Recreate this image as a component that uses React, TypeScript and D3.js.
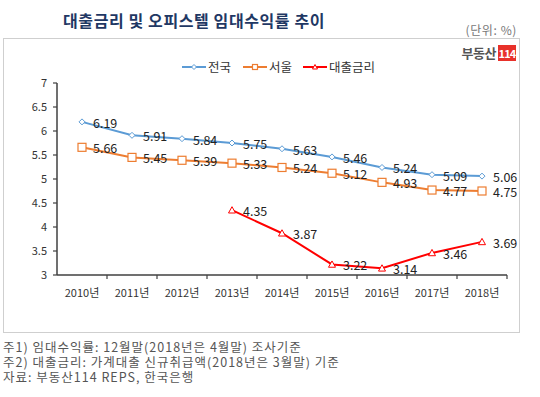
import React from "react";
import * as d3 from "d3";

const years = ["2010년", "2011년", "2012년", "2013년", "2014년", "2015년", "2016년", "2017년", "2018년"];
const national = [6.19, 5.91, 5.84, 5.75, 5.63, 5.46, 5.24, 5.09, 5.06];
const seoul = [5.66, 5.45, 5.39, 5.33, 5.24, 5.12, 4.93, 4.77, 4.75];
const loanRate: (number | null)[] = [null, null, null, 4.35, 3.87, 3.22, 3.14, 3.46, 3.69];
const yTicks = [3, 3.5, 4, 4.5, 5, 5.5, 6, 6.5, 7];
const seriesNames = ["전국", "서울", "대출금리"];
const notes = [
  "주1) 임대수익률: 12월말(2018년은 4월말) 조사기준",
  "주2) 대출금리: 가계대출 신규취급액(2018년은 3월말) 기준",
  "자료: 부동산114 REPS, 한국은행",
];

const FONT = "'Noto Sans CJK KR', 'Noto Sans', sans-serif";
const colors = ["#5b9bd5", "#ed7d31", "#ff0000"];

function Marker({ kind, x, y, color, s }: { kind: number; x: number; y: number; color: string; s: number }) {
  if (kind === 0) {
    return <path d={`M${x},${y - s}L${x + s},${y}L${x},${y + s}L${x - s},${y}Z`} fill="#fff" stroke={color} strokeWidth={1} />;
  }
  if (kind === 1) {
    return <rect x={x - s} y={y - s} width={2 * s} height={2 * s} fill="#fff" stroke={color} strokeWidth={1.2} />;
  }
  return <path d={`M${x},${y - s}L${x + s},${y + s * 0.8}L${x - s},${y + s * 0.8}Z`} fill="#fff" stroke={color} strokeWidth={1} />;
}

export default function App() {
  const x = d3.scaleBand<string>().domain(years).range([57, 507]);
  const y = d3.scaleLinear().domain([3, 7]).range([275, 83]);
  const cx = (d: string) => (x(d) as number) + x.bandwidth() / 2;

  const all: (number | null)[][] = [national, seoul, loanRate];
  const line = d3
    .line<number | null>()
    .defined((d) => d !== null)
    .x((_, i) => cx(years[i]))
    .y((d) => y(d as number));

  const legendX = [182, 243, 303];
  const markerSizes = [3, 4, 3.5];

  return (
    <svg width={540} height={397} style={{ position: "absolute", left: 0, top: 0, background: "#fff" }} fontFamily={FONT}>
      <text x={63} y={27} fontSize={16} fontWeight="bold" fill="#1f3864" letterSpacing={0.6}>
        대출금리 및 오피스텔 임대수익률 추이
      </text>
      <text x={517} y={35} fontSize={12} fill="#777" textAnchor="end" letterSpacing={0.6}>
        (단위: %)
      </text>
      <rect x={3.5} y={38.5} width={516} height={294} fill="#fff" stroke="#cfcfcf" strokeWidth={1} />

      {/* logo */}
      <text x={496} y={58} fontSize={13} fontWeight="bold" fill="#555" textAnchor="end" letterSpacing={-0.5}>
        부동산
      </text>
      <rect x={498} y={45} width={18} height={16} fill="#e8312a" />
      <text x={507} y={57.5} fontSize={11} fontWeight="bold" fill="#fff" textAnchor="middle" letterSpacing={-0.8}>
        114
      </text>

      {/* legend */}
      {seriesNames.map((n, i) => (
        <g key={n}>
          <line x1={legendX[i]} x2={legendX[i] + 24} y1={67} y2={67} stroke={colors[i]} strokeWidth={2} />
          <Marker kind={i} x={legendX[i] + 12} y={67} color={colors[i]} s={2.5} />
          <text x={legendX[i] + 26} y={71.5} fontSize={12.5} fill="#333">
            {n}
          </text>
        </g>
      ))}

      {/* y axis */}
      <line x1={57} x2={57} y1={y(7)} y2={y(3)} stroke="#404040" strokeWidth={1.5} />
      {yTicks.map((t) => (
        <g key={t}>
          <line x1={53} x2={57} y1={y(t)} y2={y(t)} stroke="#404040" strokeWidth={1.2} />
          <text x={47} y={y(t) + 4} fontSize={11} fill="#333" textAnchor="end">
            {t}
          </text>
        </g>
      ))}

      {/* x axis */}
      <line x1={57} x2={507} y1={275} y2={275} stroke="#404040" strokeWidth={1.5} />
      {years.map((yr) => (
        <g key={yr}>
          <line x1={(x(yr) as number) + x.bandwidth()} x2={(x(yr) as number) + x.bandwidth()} y1={275} y2={279} stroke="#404040" strokeWidth={1.2} />
          <text x={cx(yr)} y={297} fontSize={11} fill="#333" textAnchor="middle">
            {yr}
          </text>
        </g>
      ))}

      {/* series */}
      {all.map((vals, si) => (
        <g key={si}>
          <path d={line(vals) || ""} fill="none" stroke={colors[si]} strokeWidth={2} />
          {vals.map((v, i) =>
            v === null ? null : (
              <g key={i}>
                <Marker kind={si} x={cx(years[i])} y={y(v)} color={colors[si]} s={markerSizes[si]} />
                <text x={cx(years[i]) + 11} y={y(v) + 6} fontSize={12.5} fill="#222">
                  {v.toFixed(2)}
                </text>
              </g>
            )
          )}
        </g>
      ))}

      {/* notes */}
      {notes.map((n, i) => (
        <text key={i} x={3} y={352 + i * 15} fontSize={12.5} fill="#555" letterSpacing={1}>
          {n}
        </text>
      ))}
    </svg>
  );
}
